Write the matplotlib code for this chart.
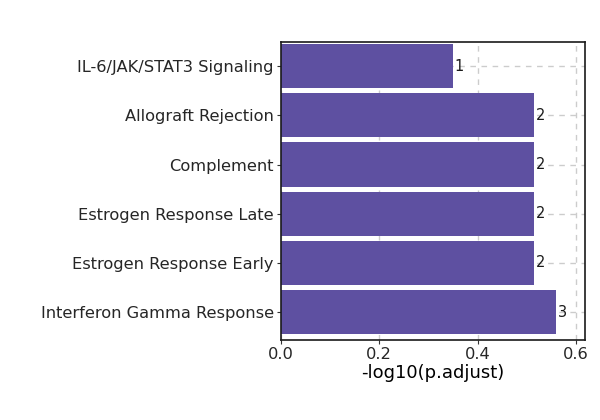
import matplotlib.pyplot as plt

# pathways, top to bottom
terms = ["IL-6/JAK/STAT3 Signaling", "Allograft Rejection", "Complement",
         "Estrogen Response Late", "Estrogen Response Early",
         "Interferon Gamma Response"]
neg_log_padj = [0.35, 0.515, 0.515, 0.515, 0.515, 0.56]
counts = [1, 2, 2, 2, 2, 3]

fig = plt.figure(figsize=(6, 4.2), dpi=100)
ax = fig.add_axes([0.468, 0.19, 0.507, 0.71])

ypos = list(range(len(terms)))
ax.barh(ypos, neg_log_padj, height=0.9, color="#5e50a1", zorder=2)

# count labels at the bar ends
for y, v, c in zip(ypos, neg_log_padj, counts):
    ax.text(v + 0.003, y, str(c), va="center", ha="left", fontsize=10.5,
            color="#1a1a1a", zorder=3)

ax.set_yticks(ypos)
ax.set_yticklabels(terms, fontsize=11.7, color="#262626")
ax.set_ylim(5.57, -0.49)
ax.set_xlim(0, 0.6185)
ax.set_xticks([0.0, 0.2, 0.4, 0.6])
ax.set_xticklabels(["0.0", "0.2", "0.4", "0.6"], fontsize=11.7, color="#262626")
ax.set_xlabel("-log10(p.adjust)", fontsize=13, color="black", labelpad=1)

ax.grid(True, linestyle=(0, (4, 4)), color="#cccccc", linewidth=1, zorder=0)
ax.set_axisbelow(True)
ax.tick_params(length=3, width=0.8, color="#333333", pad=2)
for s in ax.spines.values():
    s.set_linewidth(1.2)
    s.set_color("#1a1a1a")

fig.savefig("out.png", dpi=100)
